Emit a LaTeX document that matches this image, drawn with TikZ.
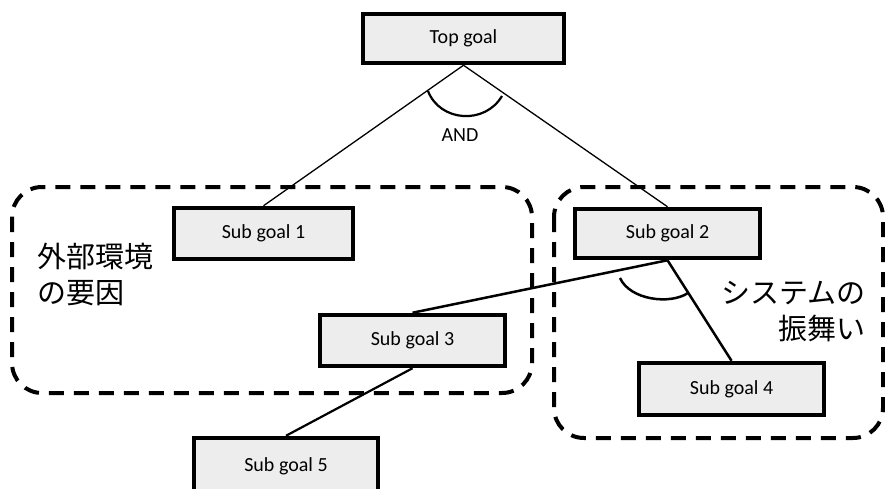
\documentclass[tikz,border=0pt]{standalone}
\usepackage{fontspec}
\setmainfont{Carlito}
\newfontfamily\jpfont{Noto Sans CJK JP}
\begin{document}
\begin{tikzpicture}[x=1pt,y=-1pt,
  goalbox/.style={draw=black, fill=black!7, line width=4.5pt, inner sep=0pt,
    font=\fontsize{20}{24}\selectfont},
  thinlink/.style={line width=1.3pt},
  thicklink/.style={line width=2.5pt},
  groupframe/.style={draw=black, line width=4pt, dash pattern=on 15pt off 10pt,
    rounded corners=30pt},
  grouplabel/.style={font=\jpfont\fontsize{29}{36}\selectfont, inner sep=0pt}]
\useasboundingbox (0,0) rectangle (885,489);

% dashed group frames
\draw[groupframe] (12,187) rectangle (532,393);
\draw[groupframe] (554,187) rectangle (883,438);

% goal boxes
\node[goalbox, minimum width=201pt, minimum height=49pt] (top) at (463.5,38.5) {Top goal};
\node[goalbox, minimum width=179pt, minimum height=51pt] (s1) at (263.5,233.5) {Sub goal 1};
\node[goalbox, minimum width=185pt, minimum height=49pt] (s2) at (667.5,233.5) {Sub goal 2};
\node[goalbox, minimum width=185pt, minimum height=51pt] (s3) at (412.5,340.5) {Sub goal 3};
\node[goalbox, minimum width=185pt, minimum height=52pt] (s4) at (731.5,389) {Sub goal 4};
\node[goalbox, minimum width=184pt, minimum height=56pt] (s5) at (286,466) {Sub goal 5};

% links
\draw[thinlink] (top.south) -- (s1.north);
\draw[thinlink] (top.south) -- (s2.north);
\draw[thicklink] (s2.south) -- (s3.north);
\draw[thicklink] (s2.south) -- (s4.north);
\draw[line width=2.2pt] (s3.south) -- (s5.north);

% AND arcs
\draw[line width=2.2pt] (428,91) .. controls (440,122) and (485,125) .. (502,96);
\node[font=\fontsize{20}{24}\selectfont] (andlabel) at (460,135) {AND};
\draw[line width=2.5pt] (620,278) .. controls (630,300) and (670,305) .. (688,293);

% group captions
\node[grouplabel, align=left, anchor=west] (envlabel) at (37,274) {外部環境\\の要因};
\node[grouplabel, align=right, anchor=east] (syslabel) at (866,311.5) {システムの\\振舞い};
\end{tikzpicture}
\end{document}
